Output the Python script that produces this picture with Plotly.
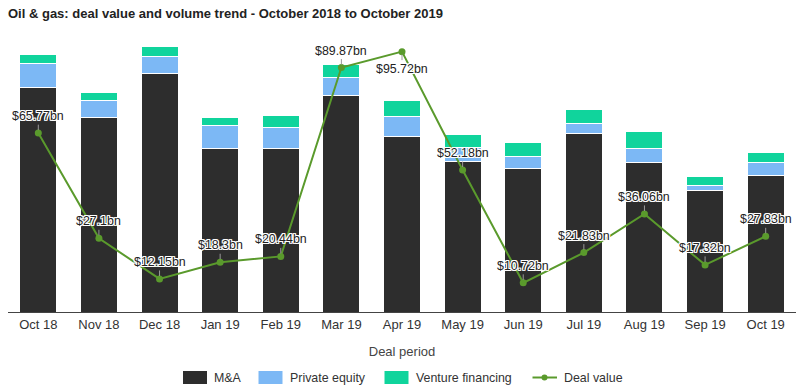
import plotly.graph_objects as go

categories = ["Oct 18", "Nov 18", "Dec 18", "Jan 19", "Feb 19", "Mar 19", "Apr 19",
              "May 19", "Jun 19", "Jul 19", "Aug 19", "Sep 19", "Oct 19"]
ma_volume = [82.5, 71.5, 87.7, 60.2, 60.2, 79.7, 64.6, 55.3, 52.6, 65.5, 55.1, 44.7, 50.3]
pe_volume = [8.8, 6.1, 6.4, 8.2, 7.5, 6.4, 7.1, 5.2, 4.4, 3.9, 4.9, 1.9, 4.8]
vf_volume = [3.2, 3.2, 3.5, 3.0, 4.4, 4.8, 5.9, 4.7, 5.2, 5.0, 6.3, 3.1, 3.7]
deal_value = [65.77, 27.1, 12.15, 18.3, 20.44, 89.87, 95.72, 52.18, 10.72, 21.83, 36.06, 17.32, 27.83]
value_labels = ["$65.77bn", "$27.1bn", "$12.15bn", "$18.3bn", "$20.44bn", "$89.87bn", "$95.72bn",
                "$52.18bn", "$10.72bn", "$21.83bn", "$36.06bn", "$17.32bn", "$27.83bn"]
label_below = [False, False, False, False, False, False, True,
               False, False, False, False, False, False]
series_names = ["M&A", "Private equity", "Venture financing", "Deal value"]

FONT = "Liberation Sans, Arial, sans-serif"
GREEN = "#5a9a2c"
COLORS = ["#2d2d2d", "#7cb8f5", "#10d49c"]

W, H = 800, 392
ML, MR, MT, MB = 8, 4, 40, 80
PW, PH = W - ML - MR, H - MT - MB


def px(x):
    return (x - ML) / PW


def py(y):
    return (H - MB - y) / PH


fig = go.Figure()
bar_line = dict(color="white", width=1)
for vals, name, col in zip([ma_volume, pe_volume, vf_volume], series_names[:3], COLORS):
    fig.add_trace(go.Bar(x=categories, y=vals, name=name, showlegend=False,
                         marker=dict(color=col, line=bar_line)))
fig.add_trace(go.Scatter(x=categories, y=deal_value, name=series_names[3], yaxis="y2",
                         mode="lines+markers", showlegend=False,
                         line=dict(color=GREEN, width=2),
                         marker=dict(color=GREEN, size=7)))

shadow = ("1px 1px 0 #fff, -1px -1px 0 #fff, 1px -1px 0 #fff, -1px 1px 0 #fff, "
          "0 1px 0 #fff, 0 -1px 0 #fff, 1px 0 0 #fff, -1px 0 0 #fff")
for c, v, t, below in zip(categories, deal_value, value_labels, label_below):
    fig.add_annotation(x=c, y=v, xref="x", yref="y2", text=t,
                       showarrow=True, arrowhead=0, arrowwidth=1, arrowcolor="#999999",
                       ax=0, ay=17 if below else -17, standoff=3,
                       font=dict(family=FONT, size=12.4, color="#222222", shadow=shadow))

# custom legend (wide swatches like the reference)
legend_y = 377.5
swatches = [(183, 207, 212), (258.5, 282.5, 288), (384.5, 408.5, 414)]
for (x0, x1, tx), name, col in zip(swatches, series_names[:3], COLORS):
    fig.add_shape(type="rect", xref="paper", yref="paper",
                  x0=px(x0), x1=px(x1), y0=py(legend_y - 6.5), y1=py(legend_y + 6.5),
                  fillcolor=col, line=dict(width=0))
    fig.add_annotation(xref="paper", yref="paper", x=px(tx), y=py(legend_y), text=name,
                       showarrow=False, xanchor="left", yanchor="middle",
                       font=dict(family=FONT, size=12.4, color="#333333"))
fig.add_shape(type="line", xref="paper", yref="paper",
              x0=px(532.5), x1=px(557), y0=py(legend_y), y1=py(legend_y),
              line=dict(color=GREEN, width=2))
fig.add_shape(type="circle", xref="paper", yref="paper",
              x0=px(541.5), x1=px(547.5), y0=py(legend_y - 3), y1=py(legend_y + 3),
              fillcolor=GREEN, line=dict(width=0))
fig.add_annotation(xref="paper", yref="paper", x=px(562), y=py(legend_y), text=series_names[3],
                   showarrow=False, xanchor="left", yanchor="middle",
                   font=dict(family=FONT, size=12.4, color="#333333"))

fig.update_layout(
    width=W, height=H,
    barmode="stack", bargap=0.39,
    plot_bgcolor="white", paper_bgcolor="white",
    margin=dict(l=ML, r=MR, t=MT, b=MB, autoexpand=False),
    font=dict(family=FONT, size=12, color="#333333"),
    title=dict(text="<b>Oil & gas: deal value and volume trend - October 2018 to October 2019</b>",
               x=0.0, xanchor="left", xref="container", y=1 - 13 / H, yref="container",
               yanchor="middle", pad=dict(l=8, t=0, b=0, r=0),
               font=dict(family=FONT, size=13, color="#222222")),
    xaxis=dict(showline=True, linecolor="#444444", linewidth=1, ticks="", automargin=False,
               range=[-0.5, len(categories) - 0.5],
               tickfont=dict(size=13, color="#333333"),
               title=dict(text="Deal period", font=dict(size=13, color="#444444"), standoff=16)),
    yaxis=dict(range=[0, 100], visible=False, showgrid=False),
    yaxis2=dict(range=[0, 100], visible=False, showgrid=False, overlaying="y", side="right"),
    showlegend=False,
)

fig.write_html("out.html", config={"displayModeBar": False},
               post_script="document.body.style.margin='0';document.body.style.overflow='hidden';")
